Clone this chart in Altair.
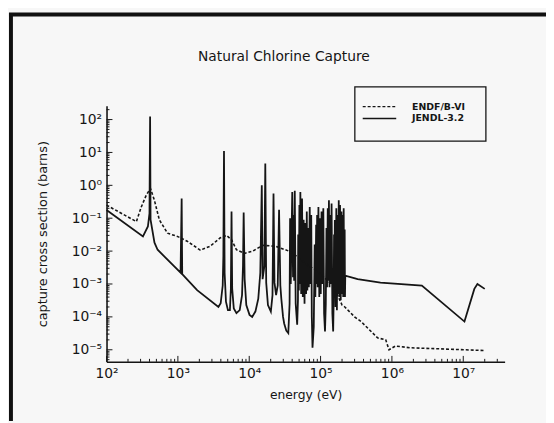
import math
import altair as alt
import pandas as pd

chart_title = "Natural Chlorine Capture"
x_title = "energy (eV)"
y_title = "capture cross section (barns)"
series_names = ["ENDF/B-VI", "JENDL-3.2"]

# JENDL-3.2, below the dense resonance region
jendl_low_energy = [100, 324, 380, 400, 408, 414, 470, 520, 1090, 1130,
                    1150, 1860, 3700, 3980, 4250, 4340, 4430, 4520, 4720, 5030,
                    5360, 5530, 5650, 5770, 6080, 6620, 7360, 7930, 8180, 8360,
                    8630, 9100, 10100, 11000, 12200, 13400, 14300, 15000, 15400, 16300,
                    16800, 17300, 18300, 20100, 21200, 21900, 22600, 23800, 25100, 26200,
                    27300, 28200, 29800, 30900, 33100]
jendl_low_sigma = [0.178, 0.028, 0.056, 0.14, 123, 0.09, 0.018, 0.011, 0.0022, 0.40,
                   0.002, 6.5e-4, 2.0e-4, 2.6e-4, 9e-4, 7e-3, 11, 2.2e-3, 2.9e-4, 1.6e-4,
                   1.6e-4, 7.2e-4, 0.16, 7.2e-4, 1.8e-4, 1.3e-4, 1.6e-4, 4.6e-4, 3.6e-3, 0.15,
                   1.4e-3, 2.3e-4, 1.15e-4, 1.0e-4, 1.45e-4, 3.6e-4, 2.2e-3, 1.0, 1.4e-3, 3.5e-3,
                   4.6, 1.1e-3, 2.3e-4, 1.45e-4, 4.6e-4, 0.56, 1.1e-3, 4.6e-4, 9e-4, 0.18,
                   9e-4, 3.5e-4, 1.0e-4, 6.3e-5, 3.8e-5]
# JENDL-3.2, dense resonance region (about 35 keV to 220 keV)
jendl_dense_energy = [35300, 36800, 37400, 38200, 40100, 41100, 41800, 42600, 43500, 44800,
                      47000, 48200, 48600, 49600, 50500, 51300, 52100, 53500, 55000, 56400,
                      57900, 59600, 61100, 62700, 64100, 65300, 66600, 68500, 70500, 72100,
                      74000, 75400, 77100, 80300, 82700, 84500, 86700, 88100, 89500, 91200,
                      93300, 96000, 98400, 100600, 103200, 106200, 109300, 112100, 115400, 118400,
                      121000, 123300, 126100, 128500, 131000, 133500, 136500, 139600, 142700, 146400,
                      150200, 152600, 154500, 156500, 158500, 162100, 166200, 169400, 173200, 176500,
                      179900, 183400, 187500, 191700, 196100, 199800, 204300, 207600, 210900, 214300,
                      217800, 219900, 222000]
jendl_dense_sigma = [3.2e-5, 2.5e-4, 0.1, 1e-3, 0.63, 1.6e-3, 0.126, 1.26e-3, 0.68, 2.5e-4,
                     5.8e-5, 3.2e-4, 0.032, 6.3e-4, 0.25, 1e-3, 0.63, 5e-4, 0.4, 4e-4,
                     0.089, 2.5e-4, 0.071, 5e-4, 0.16, 6.3e-4, 0.05, 7.9e-4, 0.22, 1e-3,
                     0.126, 1e-4, 1.15e-5, 5e-5, 0.016, 4e-4, 0.063, 1e-3, 0.126, 7.9e-4,
                     0.22, 4e-4, 0.1, 5e-4, 0.16, 1e-3, 0.2, 1.26e-4, 3.6e-5, 2.5e-4,
                     0.05, 7.9e-4, 0.2, 1.26e-3, 0.35, 7.9e-4, 0.126, 1e-3, 0.28, 1.26e-4,
                     3.6e-5, 3.2e-4, 0.032, 6.3e-4, 0.089, 2e-4, 0.2, 1.6e-4, 0.126, 5e-4,
                     0.35, 4e-4, 0.25, 3.2e-4, 0.16, 5e-4, 0.126, 4e-4, 0.2, 4e-4,
                     0.045, 4e-4, 1.8e-3]
# JENDL-3.2, smooth high-energy part
jendl_high_energy = [331000, 692000, 2.63e6, 1.04e7, 1.43e7, 1.58e7, 2.0e7]
jendl_high_sigma = [1.4e-3, 1.1e-3, 8.9e-4, 7.2e-5, 7.1e-4, 1e-3, 7.1e-4]

endf_energy = [100, 262, 307, 360, 413, 469, 550, 716, 985, 1350,
               2060, 2830, 3890, 4820, 5650, 6620, 8600, 11200, 15500, 23600,
               36000, 47000, 68000, 84000, 150000, 200000, 219000, 300000, 370000, 630000,
               820000, 910000, 1120000, 1800000, 20000000]
endf_sigma = [0.25, 0.079, 0.22, 0.5, 0.8, 0.35, 0.089, 0.035, 0.028, 0.02,
              0.0107, 0.014, 0.025, 0.030, 0.022, 0.011, 0.0085, 0.010, 0.015, 0.014,
              0.010, 0.0068, 0.0035, 0.0028, 0.0009, 2.3e-4, 2.0e-4, 1.0e-4, 7.2e-5, 2.3e-5,
              2.0e-5, 1.0e-5, 1.3e-5, 1.15e-5, 9.5e-6]

x_tick_values = [1e2, 1e3, 1e4, 1e5, 1e6, 1e7]
x_tick_labels = ["10²", "10³", "10⁴", "10⁵", "10⁶", "10⁷"]
y_tick_values = [1e-5, 1e-4, 1e-3, 1e-2, 1e-1, 1e0, 1e1, 1e2]
y_tick_labels = ["10⁻⁵", "10⁻⁴", "10⁻³", "10⁻²", "10⁻¹", "10⁰", "10¹", "10²"]
x_domain = [100, 3.8e7]
y_domain = [4.3e-6, 265]
x_minor = [m * 10.0 ** d for d in range(2, 8) for m in range(2, 10) if m * 10.0 ** d <= x_domain[1]]
y_minor = [m * 10.0 ** d for d in range(-6, 3) for m in range(2, 10)
           if y_domain[0] <= m * 10.0 ** d <= y_domain[1]]

FONT = "DejaVu Sans"
INK = "#151515"


def label_expr(values, labels):
    expr = "''"
    for v, t in zip(values, labels):
        e = round(math.log10(v))
        expr = f"(round(log(datum.value) / log(10)) == {e} ? '{t}' : {expr})"
    return expr


jendl_df = pd.DataFrame({
    "energy": jendl_low_energy + jendl_dense_energy + jendl_high_energy,
    "sigma": jendl_low_sigma + jendl_dense_sigma + jendl_high_sigma,
})
endf_df = pd.DataFrame({"energy": endf_energy, "sigma": endf_sigma})

xscale = alt.Scale(type="log", domain=x_domain, nice=False)
yscale = alt.Scale(type="log", domain=y_domain, nice=False)

xaxis = alt.Axis(values=x_tick_values, labelExpr=label_expr(x_tick_values, x_tick_labels),
                 title=x_title, ticks=False, grid=False, domainColor=INK, domainWidth=1.6,
                 labelFont=FONT, labelFontSize=14, labelPadding=5, labelFlush=False,
                 labelOverlap=False, labelColor=INK, titleFont=FONT, titleFontSize=12.5,
                 titleFontWeight="normal", titleColor=INK, titleY=33, titleBaseline="middle")
yaxis = alt.Axis(values=y_tick_values, labelExpr=label_expr(y_tick_values, y_tick_labels),
                 title=y_title, ticks=False, grid=False, domainColor=INK, domainWidth=1.6,
                 labelFont=FONT, labelFontSize=14, labelPadding=5, labelFlush=False,
                 labelOverlap=False, labelColor=INK, titleFont=FONT, titleFontSize=13,
                 titleFontWeight="normal", titleColor=INK, titleX=-65, titleY=130,
                 titleAngle=270, titleAlign="center", titleBaseline="middle")

jendl = alt.Chart(jendl_df).mark_line(color=INK, strokeWidth=1.8).encode(
    x=alt.X("energy:Q", scale=xscale, axis=xaxis),
    y=alt.Y("sigma:Q", scale=yscale, axis=yaxis),
)
endf = alt.Chart(endf_df).mark_line(color=INK, strokeWidth=1.6, strokeDash=[3, 2]).encode(
    x=alt.X("energy:Q", scale=xscale, axis=xaxis),
    y=alt.Y("sigma:Q", scale=yscale, axis=yaxis),
)


def yticks(vals, length):
    return alt.Chart(pd.DataFrame({"v": vals})).mark_rule(color=INK, strokeWidth=1).encode(
        y=alt.Y("v:Q", scale=yscale, axis=yaxis), x=alt.value(0), x2=alt.value(length))


def xticks(vals, length):
    return alt.Chart(pd.DataFrame({"v": vals})).mark_rule(color=INK, strokeWidth=1).encode(
        x=alt.X("v:Q", scale=xscale, axis=xaxis), y=alt.value(260), y2=alt.value(260 - length))


one = pd.DataFrame({"k": [0]})
border_left = alt.Chart(one).mark_rule(color="#111", strokeWidth=4).encode(
    x=alt.value(-97), y=alt.value(-94), y2=alt.value(320))
border_top = alt.Chart(one).mark_rule(color="#111", strokeWidth=4).encode(
    x=alt.value(-99), x2=alt.value(446), y=alt.value(-92.5))

title_mark = alt.Chart(pd.DataFrame({"t": [chart_title]})).mark_text(
    font=FONT, fontSize=14, color=INK, align="center", baseline="middle").encode(
    text="t:N", x=alt.value(180), y=alt.value(-49))

legend_box = alt.Chart(one).mark_rect(fillOpacity=0, stroke=INK, strokeWidth=1.3).encode(
    x=alt.value(252), x2=alt.value(385), y=alt.value(-19), y2=alt.value(36))
legend_dash = alt.Chart(one).mark_rule(color=INK, strokeWidth=1.5, strokeDash=[3, 2]).encode(
    x=alt.value(260), x2=alt.value(294), y=alt.value(1))
legend_solid = alt.Chart(one).mark_rule(color=INK, strokeWidth=1.5).encode(
    x=alt.value(260), x2=alt.value(294), y=alt.value(13))
legend_text1 = alt.Chart(pd.DataFrame({"name": [series_names[0]]})).mark_text(
    font=FONT, fontSize=9.5, fontWeight="bold", color=INK, align="left", baseline="middle").encode(
    text="name:N", x=alt.value(310), y=alt.value(1))
legend_text2 = alt.Chart(pd.DataFrame({"name": [series_names[1]]})).mark_text(
    font=FONT, fontSize=9.5, fontWeight="bold", color=INK, align="left", baseline="middle").encode(
    text="name:N", x=alt.value(310), y=alt.value(13))

chart = alt.layer(
    jendl, endf,
    yticks(y_tick_values, 6), yticks(y_minor, 3),
    xticks(x_tick_values, 6), xticks(x_minor, 3),
    border_left, border_top, title_mark,
    legend_box, legend_dash, legend_solid, legend_text1, legend_text2,
).properties(
    width=404, height=260,
    padding={"left": 100, "top": 96, "right": 42, "bottom": 59},
    autosize=alt.AutoSizeParams(type="none"),
).configure(background="#f7f7f7").configure_view(stroke=None)

chart.save("out.html", embed_options={"renderer": "svg", "actions": False})
